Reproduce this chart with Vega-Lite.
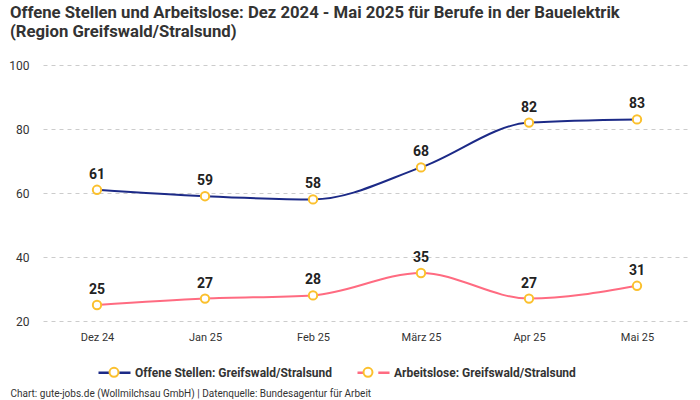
{
  "$schema": "https://vega.github.io/schema/vega-lite/v6.json",
  "width": 648,
  "height": 256,
  "autosize": {"type": "none"},
  "padding": {"left": 43, "top": 65, "right": 9, "bottom": 79},
  "background": "white",
  "config": {
    "font": "Liberation Sans Narrow, Roboto, sans-serif",
    "view": {"stroke": null}
  },
  "title": {
    "text": ["Offene Stellen und Arbeitslose: Dez 2024 - Mai 2025 für Berufe in der Bauelektrik", "(Region Greifswald/Stralsund)"],
    "anchor": "start",
    "frame": "group",
    "dx": -33,
    "fontSize": 16.7,
    "fontWeight": "bold",
    "color": "#333333",
    "lineHeight": 19,
    "offset": 18
  },
  "data": {
    "values": [
      {"monat": "Dez 24", "serie": "Offene Stellen: Greifswald/Stralsund", "wert": 61},
      {"monat": "Jan 25", "serie": "Offene Stellen: Greifswald/Stralsund", "wert": 59},
      {"monat": "Feb 25", "serie": "Offene Stellen: Greifswald/Stralsund", "wert": 58},
      {"monat": "März 25", "serie": "Offene Stellen: Greifswald/Stralsund", "wert": 68},
      {"monat": "Apr 25", "serie": "Offene Stellen: Greifswald/Stralsund", "wert": 82},
      {"monat": "Mai 25", "serie": "Offene Stellen: Greifswald/Stralsund", "wert": 83},
      {"monat": "Dez 24", "serie": "Arbeitslose: Greifswald/Stralsund", "wert": 25},
      {"monat": "Jan 25", "serie": "Arbeitslose: Greifswald/Stralsund", "wert": 27},
      {"monat": "Feb 25", "serie": "Arbeitslose: Greifswald/Stralsund", "wert": 28},
      {"monat": "März 25", "serie": "Arbeitslose: Greifswald/Stralsund", "wert": 35},
      {"monat": "Apr 25", "serie": "Arbeitslose: Greifswald/Stralsund", "wert": 27},
      {"monat": "Mai 25", "serie": "Arbeitslose: Greifswald/Stralsund", "wert": 31}
    ]
  },
  "encoding": {
    "x": {
      "field": "monat",
      "type": "ordinal",
      "sort": ["Dez 24", "Jan 25", "Feb 25", "März 25", "Apr 25", "Mai 25"],
      "scale": {"type": "point", "padding": 0.5},
      "axis": {
        "labelAngle": 0,
        "domain": false,
        "ticks": false,
        "grid": false,
        "labelFontSize": 11,
        "labelColor": "#333333",
        "labelPadding": 10,
        "title": "Chart: gute-jobs.de (Wollmilchsau GmbH) | Datenquelle: Bundesagentur für Arbeit",
        "titleFontSize": 10,
        "titleFontWeight": "normal",
        "titleColor": "#333333",
        "titleAlign": "left",
        "titleAnchor": "start",
        "titleBaseline": "alphabetic",
        "titleX": -33,
        "titleY": 75
      }
    },
    "y": {
      "field": "wert",
      "type": "quantitative",
      "scale": {"domain": [20, 100], "nice": false},
      "axis": {
        "values": [20, 40, 60, 80, 100],
        "domain": false,
        "ticks": false,
        "title": null,
        "labelFontSize": 12,
        "labelColor": "#333333",
        "labelPadding": 14,
        "gridColor": "#cccccc",
        "gridDash": [4, 4],
        "gridWidth": 1
      }
    }
  },
  "layer": [
    {
      "mark": {"type": "line", "interpolate": "monotone", "strokeWidth": 2},
      "encoding": {
        "color": {
          "field": "serie",
          "type": "nominal",
          "scale": {
            "domain": ["Offene Stellen: Greifswald/Stralsund", "Arbeitslose: Greifswald/Stralsund"],
            "range": ["#1c2a87", "#ff6b81"]
          },
          "legend": {
            "title": null,
            "orient": "none",
            "direction": "horizontal",
            "legendX": 54,
            "legendY": 290,
            "symbolType": "M-1,0H-0.3M0.3,0H1",
            "symbolSize": 1024,
            "symbolStrokeWidth": 2.5,
            "labelFontSize": 12,
            "labelFontWeight": "bold",
            "labelColor": "#333333",
            "labelOffset": 3,
            "columnPadding": 19,
            "labelLimit": 400
          }
        }
      }
    },
    {
      "mark": {"type": "point", "shape": "circle", "filled": false, "fill": "white", "strokeWidth": 2, "size": 70, "opacity": 1, "fillOpacity": 1},
      "encoding": {
        "stroke": {
          "field": "serie",
          "type": "nominal",
          "sort": ["Offene Stellen: Greifswald/Stralsund", "Arbeitslose: Greifswald/Stralsund"],
          "scale": {"range": ["#fbc02d", "#fbc02d"]},
          "legend": {
            "title": null,
            "orient": "none",
            "direction": "horizontal",
            "legendX": 54,
            "legendY": 290,
            "symbolType": "M0.28,0A0.28,0.28 0 1,1 -0.28,0A0.28,0.28 0 1,1 0.28,0Z",
            "symbolSize": 1024,
            "symbolFillColor": "white",
            "symbolStrokeWidth": 2,
            "labelFontSize": 12,
            "labelFontWeight": "bold",
            "labelColor": "#333333",
            "labelOpacity": 0,
            "labelOffset": 3,
            "columnPadding": 19,
            "labelLimit": 400
          }
        }
      }
    },
    {
      "mark": {"type": "text", "dy": -15, "fontSize": 14, "fontWeight": "bold", "color": "#222222"},
      "encoding": {
        "text": {"field": "wert", "type": "quantitative"}
      }
    }
  ]
}
